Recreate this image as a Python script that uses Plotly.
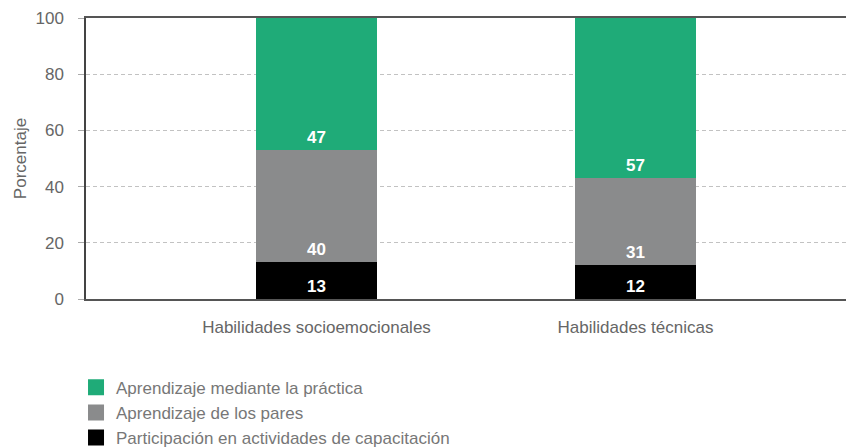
import plotly.graph_objects as go

categories = ["Habilidades socioemocionales", "Habilidades técnicas"]
capacitacion = [13, 12]
pares = [40, 31]
practica = [47, 57]

series_names = [
    "Participación en actividades de capacitación",
    "Aprendizaje de los pares",
    "Aprendizaje mediante la práctica",
]
series_values = [capacitacion, pares, practica]
series_colors = ["#000000", "#8a8b8c", "#1fab78"]

FONT = "Liberation Sans"

fig = go.Figure()
for name, vals, col in zip(series_names, series_values, series_colors):
    fig.add_trace(go.Bar(
        x=categories, y=vals, name=name,
        marker=dict(color=col, line=dict(width=0)),
        width=0.379,
        text=[str(v) for v in vals],
        textposition="inside",
        insidetextanchor="start",
        textfont=dict(family=FONT, size=17, color="white", weight="bold"),
        textangle=0,
        showlegend=False,
    ))

# legend entries (square swatches), top to bottom
for name, col in reversed(list(zip(series_names, series_colors))):
    fig.add_trace(go.Scatter(
        x=[None], y=[None], name=name, mode="markers",
        marker=dict(symbol="square", size=16, color=col),
        showlegend=True, hoverinfo="skip",
    ))

fig.update_layout(
    barmode="stack",
    width=846, height=440,
    margin=dict(l=78, r=0, t=10, b=149, autoexpand=False),
    plot_bgcolor="white", paper_bgcolor="white",
    font=dict(family=FONT, size=17, color="#666666"),
    showlegend=True,
    legend=dict(
        orientation="v", traceorder="normal",
        x=-0.013, xanchor="left", y=-0.252, yanchor="top",
        font=dict(family=FONT, size=17, color="#777777"),
        tracegroupgap=0, itemwidth=30,
        bgcolor="rgba(0,0,0,0)",
    ),
    uniformtext=dict(mode=False),
)
fig.update_xaxes(
    type="category",
    range=[-0.7226, 1.685],
    showline=True, linecolor="#555555", linewidth=1.5, mirror=True,
    ticks="", showgrid=False, automargin=False,
    ticklabelstandoff=12,
    tickfont=dict(family=FONT, size=17, color="#666666"),
)
fig.update_yaxes(
    range=[0, 100], tickvals=[0, 20, 40, 60, 80, 100],
    showline=True, linecolor="#444444", linewidth=1.5,
    ticks="outside", ticklen=6, tickcolor="#aaaaaa",
    showgrid=True, gridcolor="#c2c2c2", griddash="4px,3px", gridwidth=1,
    zeroline=False, automargin=False,
    ticklabelstandoff=11,
    tickfont=dict(family=FONT, size=17, color="#666666"),
    title=dict(text="Porcentaje", font=dict(family=FONT, size=17, color="#666666"), standoff=5),
)

fig.write_html("out.html")
